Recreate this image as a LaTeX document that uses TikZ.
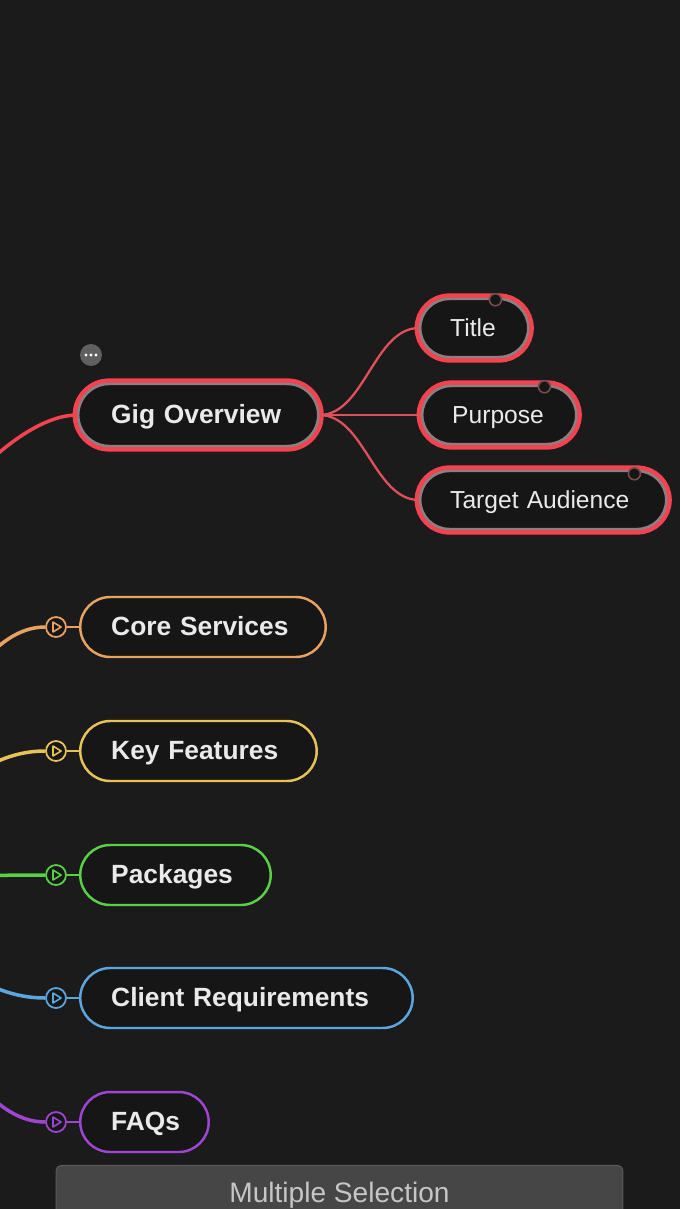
\documentclass[tikz,border=0pt]{standalone}
\usepackage{fontspec}
\setmainfont{Liberation Sans}
\usetikzlibrary{calc}
\definecolor{bg}{HTML}{1B1B1B}
\definecolor{nodefill}{HTML}{161616}
\definecolor{gigred}{HTML}{F2434F}
\definecolor{linered}{HTML}{E0505A}
\definecolor{rimgray}{HTML}{8A7F82}
\definecolor{knobrim}{HTML}{7A4A50}
\definecolor{coreorange}{HTML}{E8A262}
\definecolor{keyyellow}{HTML}{E8C258}
\definecolor{pkggreen}{HTML}{58D244}
\definecolor{clientblue}{HTML}{5BA6DE}
\definecolor{faqpurple}{HTML}{A045D2}
\definecolor{labelwhite}{HTML}{EAEAEA}
\definecolor{barfill}{HTML}{464646}
\tikzset{redbox/.style={fill=nodefill, draw=rimgray, line width=1.4pt, preaction={draw=gigred, line width=6.4pt}, anchor=west, text=labelwhite, align=left, inner ysep=0pt, text height=1.02em, text depth=0pt}}
\tikzset{gig/.style={redbox, inner xsep=0.66cm, rounded corners=0.62cm, minimum height=1.24cm, font=\fontsize{15}{18}\selectfont\bfseries}}
\tikzset{leaf/.style={redbox, inner xsep=0.6cm, rounded corners=0.58cm, minimum height=1.16cm, font=\fontsize{14}{17}\selectfont}}
\tikzset{topic/.style={fill=nodefill, draw=#1, line width=1.4pt, anchor=west, rounded corners=0.6cm, minimum height=1.2cm, text=labelwhite, align=left, inner xsep=0.62cm, inner ysep=0pt, text height=1.02em, text depth=0pt, font=\fontsize{15}{18}\selectfont\bfseries}}
\tikzset{toggle/.style={circle, draw=#1, fill=nodefill, line width=1pt, minimum size=0.4cm, inner sep=0pt}}
\tikzset{arm/.style={draw=#1, line width=2pt}}
\tikzset{twig/.style={draw=linered, line width=1.3pt}}
\tikzset{knob/.style={circle, fill=nodefill, draw=knobrim, line width=0.9pt, minimum size=0.24cm, inner sep=0pt}}
\tikzset{bar/.style={fill=barfill, draw=gray!70!black, line width=0.6pt, rounded corners=0.1cm, minimum width=11.34cm, minimum height=1.3cm, text=gray!45, font=\fontsize{16}{19}\selectfont, text height=0.72em, text depth=0.2em}}
\newcommand\playmark[2]{\draw[#1, line width=0.9pt, line join=round] (#2.center) ++(-3,-5) -- ++(0,10) -- ++(8,-5) -- cycle;}

\begin{document}
\begin{tikzpicture}[x=0.02cm, y=-0.02cm]
\useasboundingbox (0,0) rectangle (680,1209);
\fill[bg] (0,0) rectangle (680,1209);
\clip (0,0) rectangle (680,1209);
\coordinate (root) at (-200,880);
\coordinate (gigin) at (-60,520);

% gig overview and its leaves
\node[gig, text width=3.48cm] (gig) at (77,415) {Gig Overview};
\node[leaf, text width=0.96cm] (title) at (419,328) {Title};
\node[leaf, text width=1.88cm] (purpose) at (421,415) {Purpose};
\node[leaf, text width=3.72cm] (target) at (419,500) {Target Audience};
\node[knob] (knobT) at ($(title.north east)+(-34,2)$) {};
\node[knob] (knobP) at ($(purpose.north east)+(-33,2)$) {};
\node[knob] (knobA) at ($(target.north east)+(-33,4)$) {};
\draw[twig] (gig.east) .. controls +(45,0) and +(-45,0) .. (title.west);
\draw[twig] (gig.east) -- (purpose.west);
\draw[twig] (gig.east) .. controls +(45,0) and +(-45,0) .. (target.west);
\draw[arm=gigred] (gigin) .. controls +(40,-60) and +(-40,0) .. (gig.west);

\node[circle, fill=gray!75!black, minimum size=0.44cm, inner sep=0pt] (more) at (91,355) {};
\fill[white] ($(more)+(-5,0)$) circle[radius=0.032cm];
\fill[white] (more) circle[radius=0.032cm];
\fill[white] ($(more)+(5,0)$) circle[radius=0.032cm];

% collapsed topics
\node[topic=coreorange, text width=3.67cm] (core) at (79,627) {Core Services};
\node[topic=keyyellow, text width=3.49cm] (key) at (79,751) {Key Features};
\node[topic=pkggreen, text width=2.57cm] (pkg) at (79,875) {Packages};
\node[topic=clientblue, text width=5.41cm] (client) at (79,998) {Client Requirements};
\node[topic=faqpurple, text width=1.33cm] (faq) at (79,1122) {FAQs};

\node[toggle=coreorange] (tcore) at (56,627) {};
\node[toggle=keyyellow] (tkey) at (56,751) {};
\node[toggle=pkggreen] (tpkg) at (56,875) {};
\node[toggle=clientblue] (tclient) at (56,998) {};
\node[toggle=faqpurple] (tfaq) at (56,1122) {};
\playmark{coreorange}{tcore}
\playmark{keyyellow}{tkey}
\playmark{pkggreen}{tpkg}
\playmark{clientblue}{tclient}
\playmark{faqpurple}{tfaq}

\draw[arm=coreorange] (root) .. controls +(100,0) and +(-100,0) .. (tcore.west);
\draw[arm=keyyellow] (root) .. controls +(100,0) and +(-100,0) .. (tkey.west);
\draw[arm=pkggreen] (root) .. controls +(100,0) and +(-100,0) .. (tpkg.west);
\draw[arm=clientblue] (root) .. controls +(100,0) and +(-100,0) .. (tclient.west);
\draw[arm=faqpurple] (root) .. controls +(100,0) and +(-100,0) .. (tfaq.west);
\draw[coreorange, line width=1.2pt] (tcore) -- (core);
\draw[keyyellow, line width=1.2pt] (tkey) -- (key);
\draw[pkggreen, line width=1.2pt] (tpkg) -- (pkg);
\draw[clientblue, line width=1.2pt] (tclient) -- (client);
\draw[faqpurple, line width=1.2pt] (tfaq) -- (faq);

\node[bar] (multisel) at (339.5,1198) {Multiple Selection};
\end{tikzpicture}
\end{document}
